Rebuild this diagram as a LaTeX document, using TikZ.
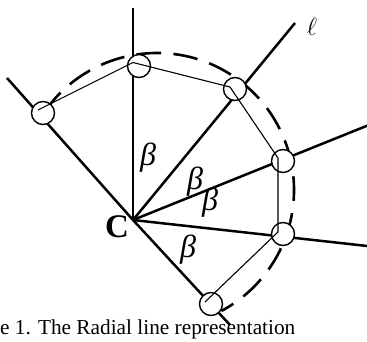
\documentclass[tikz,border=0pt]{standalone}
\usepackage{fontspec}
\setmainfont{Liberation Serif}
\usetikzlibrary{calc}
\begin{document}
\begin{tikzpicture}[x=1pt,y=-1pt,
  ray/.style={line width=2.5pt},
  poly/.style={line width=1.1pt},
  joint/.style={circle,draw,fill=white,line width=1.4pt,minimum size=23pt,inner sep=0pt},
  dashring/.style={line width=2.6pt,dash pattern=on 24.6pt off 12.4pt},
  lbl/.style={inner sep=0pt},
  betalbl/.style={inner sep=0pt,font=\fontsize{32}{32}\selectfont\itshape}]
\useasboundingbox (0,0) rectangle (367,341);
\clip (0,0) rectangle (367,341);
% centre and ray ends
\coordinate (O) at (133,220);
\coordinate (e1) at (7,78);
\coordinate (e2) at (133,8);
\coordinate (e3) at (295,23);
\coordinate (e4) at (380,120.5);
\coordinate (e5) at (380,247.4);
\coordinate (e6) at (230,325);
\foreach \e in {e1,e2,e3,e4,e5,e6} \draw[ray] (O) -- (\e);
% dashed ring
\coordinate (M) at (157,190);
\draw[dashring] ($(M)+(-145:137)$) arc[start angle=-145,end angle=62,radius=137];
% joints
\node[joint] (c1) at (43,113) {};
\node[joint] (c2) at (139,66) {};
\node[joint] (c3) at (235,89) {};
\node[joint] (c4) at (283,161) {};
\node[joint] (c5) at (283,234) {};
\node[joint] (c6) at (211,304) {};
% polygon vertices
\coordinate (p1) at (38,110);
\coordinate (p2) at (133,62.5);
\coordinate (p3) at (230,87);
\coordinate (p4) at (278,158);
\coordinate (p5) at (278,232);
\coordinate (p6) at (205,302);
\draw[poly] (p1) -- (p2) -- (p3) -- (p4) -- (p5) -- (p6);
% labels
\node[lbl,font=\fontsize{33}{33}\selectfont\bfseries] (Clbl) at (117,227) {C};
\node[betalbl] (b1) at (148,158) {β};
\node[betalbl] (b2) at (195,182) {β};
\node[betalbl] (b3) at (210,203) {β};
\node[betalbl] (b4) at (188,250) {β};
\node[lbl,font=\fontsize{27}{27}\selectfont] (ell) at (312,27) {$\ell$};
\node[lbl,anchor=base west,font=\fontsize{21.3}{21.3}\selectfont] (cap) at (0,334) {e 1. The Radial line representation};
\end{tikzpicture}
\end{document}
